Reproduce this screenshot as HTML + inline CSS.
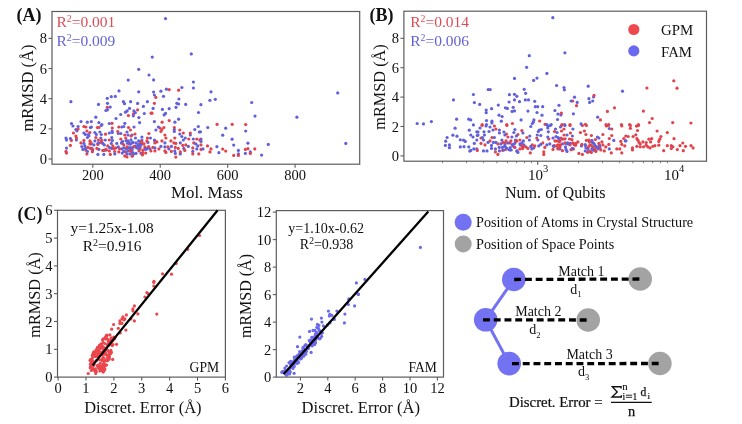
<!DOCTYPE html>
<html><head><meta charset="utf-8"><style>
html,body{margin:0;padding:0;background:#fff;width:742px;height:424px;overflow:hidden}
svg{display:block;will-change:transform}
.r{fill:#e2424a}.b{fill:#6060dc}
</style></head><body>
<svg width="742" height="424" viewBox="0 0 742 424" font-family="Liberation Serif">
<rect width="742" height="424" fill="#fff"/>
<g><circle class="r" cx="147.4" cy="138.0" r="1.6"/><circle class="b" cx="91.3" cy="121.6" r="1.6"/><circle class="b" cx="155.9" cy="130.0" r="1.6"/><circle class="b" cx="134.3" cy="146.7" r="1.6"/><circle class="r" cx="245.4" cy="149.4" r="1.6"/><circle class="b" cx="70.9" cy="101.7" r="1.6"/><circle class="r" cx="207.5" cy="145.9" r="1.6"/><circle class="b" cx="149.0" cy="75.0" r="1.6"/><circle class="r" cx="106.1" cy="149.8" r="1.6"/><circle class="b" cx="133.9" cy="110.9" r="1.6"/><circle class="b" cx="152.3" cy="57.1" r="1.6"/><circle class="b" cx="95.8" cy="117.2" r="1.6"/><circle class="r" cx="112.3" cy="128.0" r="1.6"/><circle class="b" cx="111.8" cy="148.4" r="1.6"/><circle class="b" cx="132.0" cy="142.9" r="1.6"/><circle class="b" cx="128.2" cy="80.1" r="1.6"/><circle class="b" cx="87.4" cy="137.5" r="1.6"/><circle class="b" cx="296.9" cy="117.2" r="1.6"/><circle class="b" cx="141.1" cy="153.3" r="1.6"/><circle class="r" cx="148.9" cy="133.5" r="1.6"/><circle class="b" cx="153.6" cy="92.0" r="1.6"/><circle class="b" cx="130.0" cy="147.9" r="1.6"/><circle class="r" cx="135.0" cy="134.0" r="1.6"/><circle class="b" cx="196.8" cy="148.9" r="1.6"/><circle class="b" cx="133.0" cy="142.4" r="1.6"/><circle class="b" cx="178.6" cy="104.0" r="1.6"/><circle class="b" cx="120.8" cy="133.5" r="1.6"/><circle class="r" cx="125.6" cy="151.8" r="1.6"/><circle class="b" cx="97.9" cy="154.4" r="1.6"/><circle class="b" cx="132.3" cy="152.7" r="1.6"/><circle class="r" cx="159.9" cy="128.0" r="1.6"/><circle class="r" cx="192.8" cy="147.9" r="1.6"/><circle class="r" cx="107.3" cy="107.3" r="1.6"/><circle class="b" cx="129.0" cy="142.7" r="1.6"/><circle class="r" cx="123.8" cy="144.9" r="1.6"/><circle class="b" cx="107.5" cy="103.3" r="1.6"/><circle class="b" cx="66.0" cy="138.0" r="1.6"/><circle class="b" cx="180.3" cy="142.9" r="1.6"/><circle class="r" cx="133.5" cy="113.8" r="1.6"/><circle class="r" cx="129.0" cy="143.9" r="1.6"/><circle class="b" cx="162.4" cy="109.4" r="1.6"/><circle class="r" cx="85.8" cy="150.1" r="1.6"/><circle class="b" cx="193.4" cy="82.0" r="1.6"/><circle class="b" cx="238.4" cy="153.9" r="1.6"/><circle class="r" cx="188.8" cy="139.0" r="1.6"/><circle class="b" cx="84.9" cy="145.9" r="1.6"/><circle class="b" cx="132.2" cy="149.5" r="1.6"/><circle class="b" cx="140.0" cy="147.2" r="1.6"/><circle class="r" cx="104.9" cy="149.8" r="1.6"/><circle class="r" cx="86.9" cy="153.9" r="1.6"/><circle class="b" cx="174.3" cy="131.5" r="1.6"/><circle class="b" cx="94.9" cy="140.9" r="1.6"/><circle class="b" cx="180.3" cy="153.9" r="1.6"/><circle class="r" cx="86.9" cy="131.0" r="1.6"/><circle class="r" cx="161.9" cy="129.5" r="1.6"/><circle class="b" cx="154.9" cy="140.9" r="1.6"/><circle class="b" cx="135.5" cy="138.0" r="1.6"/><circle class="b" cx="121.8" cy="148.9" r="1.6"/><circle class="r" cx="179.8" cy="130.0" r="1.6"/><circle class="b" cx="76.4" cy="140.0" r="1.6"/><circle class="b" cx="142.0" cy="143.8" r="1.6"/><circle class="b" cx="75.9" cy="129.5" r="1.6"/><circle class="b" cx="174.3" cy="129.5" r="1.6"/><circle class="r" cx="175.3" cy="147.4" r="1.6"/><circle class="b" cx="107.5" cy="109.8" r="1.6"/><circle class="b" cx="147.9" cy="142.4" r="1.6"/><circle class="b" cx="136.0" cy="142.9" r="1.6"/><circle class="r" cx="124.8" cy="135.0" r="1.6"/><circle class="b" cx="168.9" cy="148.9" r="1.6"/><circle class="b" cx="97.8" cy="143.8" r="1.6"/><circle class="r" cx="201.0" cy="149.4" r="1.6"/><circle class="b" cx="154.4" cy="121.6" r="1.6"/><circle class="b" cx="165.5" cy="113.4" r="1.6"/><circle class="r" cx="90.2" cy="148.3" r="1.6"/><circle class="b" cx="165.5" cy="18.6" r="1.6"/><circle class="b" cx="93.9" cy="144.9" r="1.6"/><circle class="r" cx="130.5" cy="130.0" r="1.6"/><circle class="r" cx="140.0" cy="148.9" r="1.6"/><circle class="b" cx="216.9" cy="146.7" r="1.6"/><circle class="b" cx="136.3" cy="147.3" r="1.6"/><circle class="b" cx="139.6" cy="122.6" r="1.6"/><circle class="r" cx="89.9" cy="132.5" r="1.6"/><circle class="b" cx="123.8" cy="151.4" r="1.6"/><circle class="b" cx="154.4" cy="140.0" r="1.6"/><circle class="r" cx="154.9" cy="150.9" r="1.6"/><circle class="b" cx="179.8" cy="134.0" r="1.6"/><circle class="b" cx="238.4" cy="150.4" r="1.6"/><circle class="r" cx="152.9" cy="147.4" r="1.6"/><circle class="b" cx="66.5" cy="140.0" r="1.6"/><circle class="b" cx="144.3" cy="113.5" r="1.6"/><circle class="r" cx="97.9" cy="144.4" r="1.6"/><circle class="b" cx="176.9" cy="103.3" r="1.6"/><circle class="b" cx="201.0" cy="139.0" r="1.6"/><circle class="b" cx="116.8" cy="143.4" r="1.6"/><circle class="r" cx="98.9" cy="127.5" r="1.6"/><circle class="r" cx="92.8" cy="149.7" r="1.6"/><circle class="b" cx="141.9" cy="137.0" r="1.6"/><circle class="r" cx="170.9" cy="140.9" r="1.6"/><circle class="b" cx="178.6" cy="119.2" r="1.6"/><circle class="b" cx="188.3" cy="146.4" r="1.6"/><circle class="r" cx="118.8" cy="127.0" r="1.6"/><circle class="b" cx="101.3" cy="134.5" r="1.6"/><circle class="b" cx="345.8" cy="143.4" r="1.6"/><circle class="r" cx="120.8" cy="139.0" r="1.6"/><circle class="b" cx="193.3" cy="139.0" r="1.6"/><circle class="b" cx="245.7" cy="131.0" r="1.6"/><circle class="b" cx="88.9" cy="136.0" r="1.6"/><circle class="b" cx="160.9" cy="91.2" r="1.6"/><circle class="b" cx="164.1" cy="114.9" r="1.6"/><circle class="b" cx="82.9" cy="149.4" r="1.6"/><circle class="b" cx="104.3" cy="144.9" r="1.6"/><circle class="r" cx="173.9" cy="142.9" r="1.6"/><circle class="b" cx="133.0" cy="152.9" r="1.6"/><circle class="r" cx="178.3" cy="148.4" r="1.6"/><circle class="b" cx="215.3" cy="99.3" r="1.6"/><circle class="r" cx="114.7" cy="151.5" r="1.6"/><circle class="b" cx="127.0" cy="153.9" r="1.6"/><circle class="b" cx="154.4" cy="95.0" r="1.6"/><circle class="b" cx="147.2" cy="148.2" r="1.6"/><circle class="b" cx="181.9" cy="87.5" r="1.6"/><circle class="b" cx="130.0" cy="153.9" r="1.6"/><circle class="b" cx="118.3" cy="133.5" r="1.6"/><circle class="b" cx="132.5" cy="155.7" r="1.6"/><circle class="b" cx="98.9" cy="149.4" r="1.6"/><circle class="r" cx="112.0" cy="123.3" r="1.6"/><circle class="r" cx="238.4" cy="155.4" r="1.6"/><circle class="b" cx="207.8" cy="127.5" r="1.6"/><circle class="r" cx="254.8" cy="148.9" r="1.6"/><circle class="r" cx="222.7" cy="149.1" r="1.6"/><circle class="b" cx="169.2" cy="108.7" r="1.6"/><circle class="b" cx="126.1" cy="140.7" r="1.6"/><circle class="b" cx="233.7" cy="145.1" r="1.6"/><circle class="r" cx="105.5" cy="134.2" r="1.6"/><circle class="r" cx="110.3" cy="154.4" r="1.6"/><circle class="b" cx="132.2" cy="147.7" r="1.6"/><circle class="b" cx="76.9" cy="130.8" r="1.6"/><circle class="b" cx="66.5" cy="148.1" r="1.6"/><circle class="b" cx="123.4" cy="101.7" r="1.6"/><circle class="r" cx="83.9" cy="140.4" r="1.6"/><circle class="b" cx="255.0" cy="116.1" r="1.6"/><circle class="b" cx="123.8" cy="147.9" r="1.6"/><circle class="r" cx="107.8" cy="145.9" r="1.6"/><circle class="r" cx="80.9" cy="142.9" r="1.6"/><circle class="r" cx="66.0" cy="151.4" r="1.6"/><circle class="r" cx="115.8" cy="147.9" r="1.6"/><circle class="b" cx="138.8" cy="148.8" r="1.6"/><circle class="b" cx="218.9" cy="152.7" r="1.6"/><circle class="b" cx="123.8" cy="126.5" r="1.6"/><circle class="b" cx="103.9" cy="150.5" r="1.6"/><circle class="b" cx="166.4" cy="89.2" r="1.6"/><circle class="r" cx="137.6" cy="109.8" r="1.6"/><circle class="r" cx="160.9" cy="131.5" r="1.6"/><circle class="r" cx="117.8" cy="131.5" r="1.6"/><circle class="b" cx="144.8" cy="149.0" r="1.6"/><circle class="r" cx="201.0" cy="144.9" r="1.6"/><circle class="b" cx="130.4" cy="144.1" r="1.6"/><circle class="r" cx="97.4" cy="127.5" r="1.6"/><circle class="r" cx="140.4" cy="143.4" r="1.6"/><circle class="r" cx="146.9" cy="140.9" r="1.6"/><circle class="b" cx="197.8" cy="145.9" r="1.6"/><circle class="b" cx="132.0" cy="135.0" r="1.6"/><circle class="b" cx="91.4" cy="143.9" r="1.6"/><circle class="b" cx="72.9" cy="126.0" r="1.6"/><circle class="b" cx="119.0" cy="90.9" r="1.6"/><circle class="b" cx="109.5" cy="147.5" r="1.6"/><circle class="r" cx="154.4" cy="103.3" r="1.6"/><circle class="r" cx="245.7" cy="124.6" r="1.6"/><circle class="b" cx="110.2" cy="107.1" r="1.6"/><circle class="r" cx="225.7" cy="151.1" r="1.6"/><circle class="b" cx="126.2" cy="148.7" r="1.6"/><circle class="b" cx="107.3" cy="98.3" r="1.6"/><circle class="r" cx="183.3" cy="133.0" r="1.6"/><circle class="b" cx="183.8" cy="148.4" r="1.6"/><circle class="r" cx="142.4" cy="154.9" r="1.6"/><circle class="r" cx="142.9" cy="150.4" r="1.6"/><circle class="b" cx="131.0" cy="139.9" r="1.6"/><circle class="r" cx="232.2" cy="124.3" r="1.6"/><circle class="b" cx="111.3" cy="96.7" r="1.6"/><circle class="r" cx="211.0" cy="148.9" r="1.6"/><circle class="r" cx="155.8" cy="97.4" r="1.6"/><circle class="b" cx="193.4" cy="88.0" r="1.6"/><circle class="b" cx="116.0" cy="118.5" r="1.6"/><circle class="b" cx="100.8" cy="138.0" r="1.6"/><circle class="r" cx="174.3" cy="127.5" r="1.6"/><circle class="b" cx="88.4" cy="134.5" r="1.6"/><circle class="b" cx="128.0" cy="150.9" r="1.6"/><circle class="b" cx="133.5" cy="154.1" r="1.6"/><circle class="r" cx="184.8" cy="150.4" r="1.6"/><circle class="b" cx="128.0" cy="140.9" r="1.6"/><circle class="r" cx="90.8" cy="142.6" r="1.6"/><circle class="r" cx="152.0" cy="113.2" r="1.6"/><circle class="r" cx="128.5" cy="127.5" r="1.6"/><circle class="r" cx="162.1" cy="122.2" r="1.6"/><circle class="b" cx="122.2" cy="153.1" r="1.6"/><circle class="b" cx="178.9" cy="99.0" r="1.6"/><circle class="r" cx="127.0" cy="156.9" r="1.6"/><circle class="r" cx="91.9" cy="148.4" r="1.6"/><circle class="r" cx="180.3" cy="151.9" r="1.6"/><circle class="r" cx="124.8" cy="155.9" r="1.6"/><circle class="r" cx="163.9" cy="127.5" r="1.6"/><circle class="b" cx="101.9" cy="124.6" r="1.6"/><circle class="b" cx="245.4" cy="153.4" r="1.6"/><circle class="b" cx="209.9" cy="100.3" r="1.6"/><circle class="b" cx="171.4" cy="146.4" r="1.6"/><circle class="r" cx="199.8" cy="140.0" r="1.6"/><circle class="b" cx="134.0" cy="127.0" r="1.6"/><circle class="b" cx="112.3" cy="140.4" r="1.6"/><circle class="b" cx="268.3" cy="144.4" r="1.6"/><circle class="b" cx="121.8" cy="143.2" r="1.6"/><circle class="r" cx="96.9" cy="148.4" r="1.6"/><circle class="r" cx="142.8" cy="153.4" r="1.6"/><circle class="b" cx="98.5" cy="104.4" r="1.6"/><circle class="b" cx="105.3" cy="140.0" r="1.6"/><circle class="r" cx="130.1" cy="150.6" r="1.6"/><circle class="b" cx="160.9" cy="146.4" r="1.6"/><circle class="b" cx="153.1" cy="108.4" r="1.6"/><circle class="b" cx="135.3" cy="112.7" r="1.6"/><circle class="b" cx="129.5" cy="108.4" r="1.6"/><circle class="b" cx="112.1" cy="131.0" r="1.6"/><circle class="r" cx="87.9" cy="147.4" r="1.6"/><circle class="b" cx="101.3" cy="125.5" r="1.6"/><circle class="b" cx="122.5" cy="141.4" r="1.6"/><circle class="r" cx="198.8" cy="153.9" r="1.6"/><circle class="b" cx="111.3" cy="143.4" r="1.6"/><circle class="r" cx="167.9" cy="146.9" r="1.6"/><circle class="r" cx="76.4" cy="138.0" r="1.6"/><circle class="r" cx="154.9" cy="142.9" r="1.6"/><circle class="b" cx="121.8" cy="127.0" r="1.6"/><circle class="b" cx="194.8" cy="129.5" r="1.6"/><circle class="b" cx="143.4" cy="106.4" r="1.6"/><circle class="r" cx="109.3" cy="140.0" r="1.6"/><circle class="r" cx="102.8" cy="150.4" r="1.6"/><circle class="b" cx="141.0" cy="144.9" r="1.6"/><circle class="r" cx="144.8" cy="146.9" r="1.6"/><circle class="b" cx="261.6" cy="155.1" r="1.6"/><circle class="b" cx="124.8" cy="123.3" r="1.6"/><circle class="r" cx="217.1" cy="124.3" r="1.6"/><circle class="b" cx="92.4" cy="150.7" r="1.6"/><circle class="b" cx="181.8" cy="136.5" r="1.6"/><circle class="r" cx="131.0" cy="150.9" r="1.6"/><circle class="b" cx="138.0" cy="144.9" r="1.6"/><circle class="r" cx="193.8" cy="142.9" r="1.6"/><circle class="b" cx="125.5" cy="112.2" r="1.6"/><circle class="r" cx="156.9" cy="141.9" r="1.6"/><circle class="r" cx="131.0" cy="136.0" r="1.6"/><circle class="b" cx="198.3" cy="126.5" r="1.6"/><circle class="b" cx="127.5" cy="143.2" r="1.6"/><circle class="b" cx="192.8" cy="151.4" r="1.6"/><circle class="b" cx="164.9" cy="146.9" r="1.6"/><circle class="r" cx="196.8" cy="139.0" r="1.6"/><circle class="r" cx="119.6" cy="148.8" r="1.6"/><circle class="b" cx="138.7" cy="69.3" r="1.6"/><circle class="r" cx="145.7" cy="153.1" r="1.6"/><circle class="r" cx="66.5" cy="153.1" r="1.6"/><circle class="b" cx="147.4" cy="101.7" r="1.6"/><circle class="b" cx="127.9" cy="147.8" r="1.6"/><circle class="r" cx="132.1" cy="156.2" r="1.6"/><circle class="b" cx="138.6" cy="145.9" r="1.6"/><circle class="b" cx="190.3" cy="135.0" r="1.6"/><circle class="r" cx="78.1" cy="129.0" r="1.6"/><circle class="b" cx="83.9" cy="133.0" r="1.6"/><circle class="b" cx="203.0" cy="148.9" r="1.6"/><circle class="r" cx="178.6" cy="90.2" r="1.6"/><circle class="r" cx="169.2" cy="89.6" r="1.6"/><circle class="r" cx="175.8" cy="143.4" r="1.6"/><circle class="b" cx="81.8" cy="146.6" r="1.6"/><circle class="b" cx="250.3" cy="151.9" r="1.6"/><circle class="r" cx="233.7" cy="155.4" r="1.6"/><circle class="b" cx="105.9" cy="110.5" r="1.6"/><circle class="b" cx="85.4" cy="148.4" r="1.6"/><circle class="r" cx="109.3" cy="150.9" r="1.6"/><circle class="b" cx="200.9" cy="104.7" r="1.6"/><circle class="r" cx="139.0" cy="150.9" r="1.6"/><circle class="b" cx="96.4" cy="134.5" r="1.6"/><circle class="r" cx="247.9" cy="148.7" r="1.6"/><circle class="b" cx="174.8" cy="150.9" r="1.6"/><circle class="r" cx="140.3" cy="142.2" r="1.6"/><circle class="r" cx="121.8" cy="142.9" r="1.6"/><circle class="b" cx="130.6" cy="101.7" r="1.6"/><circle class="b" cx="149.9" cy="148.9" r="1.6"/><circle class="b" cx="135.5" cy="146.2" r="1.6"/><circle class="r" cx="71.4" cy="140.4" r="1.6"/><circle class="b" cx="222.7" cy="135.2" r="1.6"/><circle class="b" cx="138.9" cy="117.6" r="1.6"/><circle class="b" cx="158.4" cy="127.0" r="1.6"/><circle class="b" cx="150.4" cy="138.0" r="1.6"/><circle class="r" cx="75.9" cy="136.0" r="1.6"/><circle class="r" cx="89.9" cy="140.9" r="1.6"/><circle class="b" cx="191.3" cy="53.9" r="1.6"/><circle class="b" cx="127.1" cy="110.9" r="1.6"/><circle class="b" cx="195.8" cy="143.9" r="1.6"/><circle class="r" cx="164.9" cy="135.0" r="1.6"/><circle class="r" cx="89.9" cy="143.9" r="1.6"/><circle class="b" cx="183.3" cy="140.0" r="1.6"/><circle class="b" cx="91.4" cy="127.0" r="1.6"/><circle class="b" cx="127.0" cy="132.0" r="1.6"/><circle class="r" cx="158.9" cy="148.9" r="1.6"/><circle class="r" cx="182.8" cy="145.4" r="1.6"/><circle class="r" cx="190.3" cy="133.0" r="1.6"/><circle class="b" cx="85.4" cy="134.5" r="1.6"/><circle class="r" cx="118.8" cy="151.9" r="1.6"/><circle class="b" cx="78.1" cy="126.5" r="1.6"/><circle class="b" cx="200.5" cy="131.8" r="1.6"/><circle class="b" cx="120.7" cy="114.5" r="1.6"/><circle class="b" cx="141.9" cy="140.0" r="1.6"/><circle class="r" cx="83.9" cy="126.5" r="1.6"/><circle class="b" cx="145.9" cy="148.9" r="1.6"/><circle class="r" cx="100.8" cy="142.4" r="1.6"/><circle class="b" cx="232.1" cy="139.2" r="1.6"/><circle class="b" cx="87.4" cy="151.4" r="1.6"/><circle class="b" cx="154.9" cy="147.9" r="1.6"/><circle class="b" cx="115.3" cy="96.4" r="1.6"/><circle class="b" cx="102.8" cy="143.4" r="1.6"/><circle class="b" cx="111.8" cy="137.5" r="1.6"/><circle class="r" cx="141.9" cy="141.9" r="1.6"/><circle class="b" cx="112.3" cy="132.5" r="1.6"/><circle class="b" cx="128.0" cy="135.0" r="1.6"/><circle class="b" cx="87.3" cy="122.2" r="1.6"/><circle class="b" cx="136.0" cy="153.4" r="1.6"/><circle class="r" cx="165.9" cy="138.0" r="1.6"/><circle class="r" cx="98.4" cy="140.0" r="1.6"/><circle class="r" cx="144.0" cy="143.8" r="1.6"/><circle class="r" cx="185.8" cy="144.9" r="1.6"/><circle class="b" cx="251.7" cy="102.5" r="1.6"/><circle class="r" cx="85.9" cy="127.0" r="1.6"/><circle class="r" cx="174.8" cy="138.0" r="1.6"/><circle class="b" cx="199.3" cy="132.0" r="1.6"/><circle class="r" cx="114.0" cy="148.7" r="1.6"/><circle class="r" cx="151.1" cy="113.2" r="1.6"/><circle class="b" cx="81.0" cy="121.6" r="1.6"/><circle class="b" cx="109.3" cy="123.5" r="1.6"/><circle class="r" cx="169.2" cy="120.6" r="1.6"/><circle class="b" cx="133.3" cy="115.8" r="1.6"/><circle class="r" cx="70.4" cy="145.4" r="1.6"/><circle class="b" cx="103.8" cy="154.4" r="1.6"/><circle class="r" cx="171.4" cy="151.4" r="1.6"/><circle class="b" cx="94.9" cy="132.5" r="1.6"/><circle class="r" cx="128.4" cy="115.6" r="1.6"/><circle class="b" cx="174.9" cy="122.2" r="1.6"/><circle class="b" cx="176.0" cy="107.3" r="1.6"/><circle class="r" cx="125.8" cy="138.0" r="1.6"/><circle class="b" cx="138.5" cy="144.7" r="1.6"/><circle class="r" cx="175.8" cy="157.1" r="1.6"/><circle class="b" cx="153.6" cy="79.9" r="1.6"/><circle class="b" cx="163.5" cy="96.3" r="1.6"/><circle class="r" cx="148.6" cy="146.7" r="1.6"/><circle class="b" cx="247.9" cy="143.2" r="1.6"/><circle class="b" cx="121.7" cy="142.5" r="1.6"/><circle class="b" cx="137.0" cy="147.9" r="1.6"/><circle class="b" cx="225.7" cy="128.2" r="1.6"/><circle class="r" cx="106.3" cy="149.9" r="1.6"/><circle class="b" cx="138.6" cy="140.9" r="1.6"/><circle class="b" cx="138.7" cy="91.8" r="1.6"/><circle class="b" cx="98.4" cy="142.9" r="1.6"/><circle class="b" cx="211.0" cy="91.8" r="1.6"/><circle class="r" cx="95.9" cy="137.5" r="1.6"/><circle class="r" cx="150.9" cy="150.9" r="1.6"/><circle class="b" cx="198.5" cy="112.5" r="1.6"/><circle class="b" cx="185.7" cy="104.4" r="1.6"/><circle class="b" cx="175.3" cy="153.4" r="1.6"/><circle class="r" cx="210.0" cy="151.9" r="1.6"/><circle class="b" cx="124.5" cy="103.7" r="1.6"/><circle class="b" cx="109.3" cy="133.0" r="1.6"/><circle class="b" cx="146.1" cy="149.2" r="1.6"/><circle class="b" cx="98.9" cy="122.6" r="1.6"/><circle class="b" cx="114.8" cy="153.9" r="1.6"/><circle class="b" cx="90.4" cy="127.5" r="1.6"/><circle class="r" cx="112.8" cy="145.9" r="1.6"/><circle class="r" cx="161.9" cy="140.9" r="1.6"/><circle class="r" cx="127.0" cy="146.9" r="1.6"/><circle class="r" cx="250.3" cy="153.4" r="1.6"/><circle class="r" cx="101.8" cy="140.4" r="1.6"/><circle class="b" cx="337.7" cy="92.9" r="1.6"/><circle class="b" cx="137.6" cy="103.4" r="1.6"/><circle class="r" cx="164.9" cy="150.9" r="1.6"/><circle class="b" cx="129.6" cy="147.9" r="1.6"/><circle class="b" cx="70.4" cy="138.5" r="1.6"/><circle class="r" cx="92.4" cy="151.7" r="1.6"/><circle class="r" cx="192.8" cy="153.9" r="1.6"/><circle class="b" cx="164.9" cy="142.9" r="1.6"/><circle class="r" cx="165.9" cy="152.4" r="1.6"/><circle class="b" cx="83.9" cy="143.4" r="1.6"/><circle class="b" cx="201.0" cy="141.4" r="1.6"/><circle class="r" cx="73.4" cy="133.0" r="1.6"/><circle class="b" cx="99.9" cy="132.0" r="1.6"/><circle class="b" cx="71.5" cy="123.5" r="1.6"/><circle class="b" cx="118.3" cy="146.9" r="1.6"/><circle class="r" cx="134.0" cy="146.4" r="1.6"/><circle class="b" cx="185.3" cy="138.0" r="1.6"/></g>
<rect x="52" y="11.5" width="307.7" height="152.7" fill="none" stroke="#5c5c5c" stroke-width="1.2"/>
<line x1="48.5" y1="159.0" x2="52" y2="159.0" stroke="#5c5c5c" stroke-width="1.1"/>
<text x="47" y="164.0" font-size="14.5" text-anchor="end" fill="#111111" font-weight="normal" >0</text>
<line x1="48.5" y1="128.84" x2="52" y2="128.84" stroke="#5c5c5c" stroke-width="1.1"/>
<text x="47" y="133.84" font-size="14.5" text-anchor="end" fill="#111111" font-weight="normal" >2</text>
<line x1="48.5" y1="98.68" x2="52" y2="98.68" stroke="#5c5c5c" stroke-width="1.1"/>
<text x="47" y="103.68" font-size="14.5" text-anchor="end" fill="#111111" font-weight="normal" >4</text>
<line x1="48.5" y1="68.52" x2="52" y2="68.52" stroke="#5c5c5c" stroke-width="1.1"/>
<text x="47" y="73.52" font-size="14.5" text-anchor="end" fill="#111111" font-weight="normal" >6</text>
<line x1="48.5" y1="38.36" x2="52" y2="38.36" stroke="#5c5c5c" stroke-width="1.1"/>
<text x="47" y="43.36" font-size="14.5" text-anchor="end" fill="#111111" font-weight="normal" >8</text>
<line x1="92.78999999999999" y1="164.2" x2="92.78999999999999" y2="167.7" stroke="#5c5c5c" stroke-width="1.1"/>
<text x="92.78999999999999" y="180.4" font-size="14.5" text-anchor="middle" fill="#111111" font-weight="normal" >200</text>
<line x1="160.23" y1="164.2" x2="160.23" y2="167.7" stroke="#5c5c5c" stroke-width="1.1"/>
<text x="160.23" y="180.4" font-size="14.5" text-anchor="middle" fill="#111111" font-weight="normal" >400</text>
<line x1="227.67" y1="164.2" x2="227.67" y2="167.7" stroke="#5c5c5c" stroke-width="1.1"/>
<text x="227.67" y="180.4" font-size="14.5" text-anchor="middle" fill="#111111" font-weight="normal" >600</text>
<line x1="295.11" y1="164.2" x2="295.11" y2="167.7" stroke="#5c5c5c" stroke-width="1.1"/>
<text x="295.11" y="180.4" font-size="14.5" text-anchor="middle" fill="#111111" font-weight="normal" >800</text>
<text x="171.1" y="197.9" font-size="16.8" text-anchor="start" fill="#111111" font-weight="normal" >Mol. Mass</text>
<text x="0" y="0" font-size="16.6" text-anchor="middle" fill="#111111" transform="translate(33,88) rotate(-90)">mRMSD (Å)</text>
<text x="16.6" y="20.5" font-size="18" text-anchor="start" fill="#111111" font-weight="bold" >(A)</text>
<text x="56.4" y="27.0" font-size="15.5" text-anchor="start" fill="#dc4c56" font-weight="normal" >R<tspan font-size="9.8" dy="-5">2</tspan><tspan dy="5">=0.001</tspan></text>
<text x="56.4" y="45.8" font-size="15.5" text-anchor="start" fill="#6262d8" font-weight="normal" >R<tspan font-size="9.8" dy="-5">2</tspan><tspan dy="5">=0.009</tspan></text>
<g><circle class="b" cx="528.5" cy="99.9" r="1.6"/><circle class="r" cx="677.0" cy="88.2" r="1.6"/><circle class="b" cx="557.5" cy="119.5" r="1.6"/><circle class="r" cx="649.5" cy="122.6" r="1.6"/><circle class="r" cx="585.9" cy="134.5" r="1.6"/><circle class="b" cx="533.8" cy="147.9" r="1.6"/><circle class="r" cx="643.5" cy="146.8" r="1.6"/><circle class="b" cx="488.2" cy="89.6" r="1.6"/><circle class="b" cx="593.6" cy="97.0" r="1.6"/><circle class="r" cx="481.0" cy="143.4" r="1.6"/><circle class="b" cx="529.4" cy="140.0" r="1.6"/><circle class="r" cx="596.9" cy="146.9" r="1.6"/><circle class="b" cx="479.7" cy="104.4" r="1.6"/><circle class="b" cx="525.3" cy="99.9" r="1.6"/><circle class="b" cx="553.2" cy="146.0" r="1.6"/><circle class="r" cx="557.0" cy="141.0" r="1.6"/><circle class="r" cx="517.9" cy="134.5" r="1.6"/><circle class="b" cx="499.4" cy="150.9" r="1.6"/><circle class="b" cx="515.9" cy="140.9" r="1.6"/><circle class="b" cx="538.3" cy="131.5" r="1.6"/><circle class="b" cx="622.5" cy="91.2" r="1.6"/><circle class="b" cx="556.0" cy="136.5" r="1.6"/><circle class="r" cx="553.0" cy="149.4" r="1.6"/><circle class="r" cx="559.2" cy="141.7" r="1.6"/><circle class="b" cx="535.3" cy="106.7" r="1.6"/><circle class="b" cx="463.6" cy="140.2" r="1.6"/><circle class="r" cx="543.8" cy="154.4" r="1.6"/><circle class="b" cx="564.4" cy="89.8" r="1.6"/><circle class="b" cx="486.5" cy="120.6" r="1.6"/><circle class="b" cx="598.4" cy="147.8" r="1.6"/><circle class="b" cx="592.7" cy="101.0" r="1.6"/><circle class="b" cx="491.6" cy="108.7" r="1.6"/><circle class="b" cx="445.7" cy="141.2" r="1.6"/><circle class="r" cx="601.9" cy="141.9" r="1.6"/><circle class="r" cx="636.4" cy="126.1" r="1.6"/><circle class="b" cx="565.9" cy="143.5" r="1.6"/><circle class="b" cx="476.8" cy="148.9" r="1.6"/><circle class="r" cx="517.1" cy="151.2" r="1.6"/><circle class="r" cx="633.1" cy="136.5" r="1.6"/><circle class="r" cx="502.6" cy="150.3" r="1.6"/><circle class="b" cx="509.1" cy="149.6" r="1.6"/><circle class="r" cx="608.7" cy="124.6" r="1.6"/><circle class="r" cx="578.9" cy="153.4" r="1.6"/><circle class="r" cx="564.0" cy="135.0" r="1.6"/><circle class="b" cx="478.0" cy="135.0" r="1.6"/><circle class="b" cx="514.9" cy="129.5" r="1.6"/><circle class="r" cx="497.9" cy="143.9" r="1.6"/><circle class="b" cx="514.5" cy="110.9" r="1.6"/><circle class="b" cx="539.3" cy="130.0" r="1.6"/><circle class="b" cx="533.6" cy="80.4" r="1.6"/><circle class="b" cx="550.3" cy="125.5" r="1.6"/><circle class="b" cx="565.0" cy="125.5" r="1.6"/><circle class="b" cx="555.5" cy="129.0" r="1.6"/><circle class="b" cx="593.5" cy="143.1" r="1.6"/><circle class="b" cx="517.9" cy="152.4" r="1.6"/><circle class="r" cx="621.8" cy="152.9" r="1.6"/><circle class="b" cx="469.8" cy="151.1" r="1.6"/><circle class="b" cx="572.4" cy="136.0" r="1.6"/><circle class="b" cx="503.9" cy="132.0" r="1.6"/><circle class="r" cx="693.1" cy="147.9" r="1.6"/><circle class="r" cx="495.4" cy="151.9" r="1.6"/><circle class="b" cx="562.5" cy="143.9" r="1.6"/><circle class="r" cx="565.1" cy="138.8" r="1.6"/><circle class="r" cx="642.9" cy="141.9" r="1.6"/><circle class="b" cx="523.4" cy="140.9" r="1.6"/><circle class="r" cx="607.4" cy="111.4" r="1.6"/><circle class="r" cx="481.0" cy="138.0" r="1.6"/><circle class="b" cx="493.4" cy="142.4" r="1.6"/><circle class="b" cx="473.0" cy="137.0" r="1.6"/><circle class="r" cx="586.4" cy="140.4" r="1.6"/><circle class="r" cx="523.3" cy="146.8" r="1.6"/><circle class="r" cx="564.0" cy="129.0" r="1.6"/><circle class="r" cx="619.8" cy="148.9" r="1.6"/><circle class="b" cx="565.5" cy="146.9" r="1.6"/><circle class="r" cx="599.9" cy="147.9" r="1.6"/><circle class="b" cx="470.8" cy="135.0" r="1.6"/><circle class="r" cx="646.9" cy="88.0" r="1.6"/><circle class="r" cx="572.7" cy="101.0" r="1.6"/><circle class="b" cx="512.1" cy="111.4" r="1.6"/><circle class="r" cx="582.4" cy="125.5" r="1.6"/><circle class="r" cx="640.2" cy="146.8" r="1.6"/><circle class="r" cx="530.3" cy="152.9" r="1.6"/><circle class="r" cx="602.9" cy="134.5" r="1.6"/><circle class="b" cx="564.0" cy="87.5" r="1.6"/><circle class="b" cx="537.8" cy="140.0" r="1.6"/><circle class="r" cx="658.8" cy="141.4" r="1.6"/><circle class="r" cx="647.8" cy="146.8" r="1.6"/><circle class="b" cx="599.4" cy="145.1" r="1.6"/><circle class="b" cx="468.7" cy="119.2" r="1.6"/><circle class="b" cx="540.8" cy="135.5" r="1.6"/><circle class="b" cx="514.5" cy="94.3" r="1.6"/><circle class="b" cx="609.3" cy="148.9" r="1.6"/><circle class="r" cx="636.9" cy="138.7" r="1.6"/><circle class="r" cx="558.0" cy="148.9" r="1.6"/><circle class="r" cx="629.6" cy="124.6" r="1.6"/><circle class="b" cx="591.9" cy="140.4" r="1.6"/><circle class="r" cx="589.9" cy="151.4" r="1.6"/><circle class="r" cx="565.0" cy="142.9" r="1.6"/><circle class="r" cx="558.0" cy="144.9" r="1.6"/><circle class="r" cx="485.0" cy="144.9" r="1.6"/><circle class="b" cx="483.5" cy="140.0" r="1.6"/><circle class="r" cx="576.5" cy="105.7" r="1.6"/><circle class="b" cx="519.9" cy="143.9" r="1.6"/><circle class="b" cx="499.4" cy="133.0" r="1.6"/><circle class="r" cx="638.4" cy="124.6" r="1.6"/><circle class="r" cx="600.8" cy="149.9" r="1.6"/><circle class="b" cx="470.7" cy="119.9" r="1.6"/><circle class="r" cx="548.8" cy="139.0" r="1.6"/><circle class="r" cx="522.3" cy="146.3" r="1.6"/><circle class="b" cx="512.9" cy="145.9" r="1.6"/><circle class="r" cx="625.8" cy="136.0" r="1.6"/><circle class="b" cx="490.0" cy="127.0" r="1.6"/><circle class="b" cx="581.4" cy="145.9" r="1.6"/><circle class="b" cx="470.8" cy="150.4" r="1.6"/><circle class="r" cx="592.9" cy="146.9" r="1.6"/><circle class="b" cx="595.6" cy="146.4" r="1.6"/><circle class="b" cx="573.4" cy="113.8" r="1.6"/><circle class="b" cx="529.8" cy="136.0" r="1.6"/><circle class="r" cx="608.8" cy="144.4" r="1.6"/><circle class="r" cx="506.7" cy="124.6" r="1.6"/><circle class="b" cx="581.1" cy="123.9" r="1.6"/><circle class="r" cx="482.2" cy="124.6" r="1.6"/><circle class="b" cx="570.4" cy="143.4" r="1.6"/><circle class="r" cx="561.5" cy="125.5" r="1.6"/><circle class="r" cx="521.9" cy="130.5" r="1.6"/><circle class="r" cx="584.4" cy="131.0" r="1.6"/><circle class="b" cx="511.9" cy="137.0" r="1.6"/><circle class="b" cx="560.5" cy="127.0" r="1.6"/><circle class="b" cx="500.9" cy="143.9" r="1.6"/><circle class="b" cx="594.4" cy="144.3" r="1.6"/><circle class="r" cx="637.5" cy="130.5" r="1.6"/><circle class="b" cx="509.1" cy="102.0" r="1.6"/><circle class="b" cx="514.5" cy="99.9" r="1.6"/><circle class="r" cx="690.9" cy="123.0" r="1.6"/><circle class="b" cx="577.2" cy="102.4" r="1.6"/><circle class="b" cx="515.4" cy="140.0" r="1.6"/><circle class="r" cx="635.8" cy="134.8" r="1.6"/><circle class="b" cx="499.4" cy="130.0" r="1.6"/><circle class="b" cx="453.5" cy="99.9" r="1.6"/><circle class="r" cx="594.9" cy="148.9" r="1.6"/><circle class="r" cx="646.2" cy="142.5" r="1.6"/><circle class="b" cx="560.9" cy="114.9" r="1.6"/><circle class="r" cx="624.8" cy="145.9" r="1.6"/><circle class="b" cx="551.2" cy="124.6" r="1.6"/><circle class="r" cx="677.3" cy="149.6" r="1.6"/><circle class="r" cx="506.2" cy="149.2" r="1.6"/><circle class="b" cx="591.9" cy="148.9" r="1.6"/><circle class="r" cx="560.0" cy="140.9" r="1.6"/><circle class="r" cx="588.9" cy="140.0" r="1.6"/><circle class="r" cx="680.0" cy="145.7" r="1.6"/><circle class="r" cx="628.2" cy="136.5" r="1.6"/><circle class="r" cx="614.5" cy="107.8" r="1.6"/><circle class="b" cx="447.1" cy="137.5" r="1.6"/><circle class="b" cx="514.9" cy="147.5" r="1.6"/><circle class="b" cx="449.4" cy="147.7" r="1.6"/><circle class="r" cx="561.3" cy="113.2" r="1.6"/><circle class="r" cx="639.1" cy="142.5" r="1.6"/><circle class="r" cx="532.3" cy="144.9" r="1.6"/><circle class="b" cx="503.9" cy="150.0" r="1.6"/><circle class="b" cx="504.7" cy="146.5" r="1.6"/><circle class="r" cx="657.1" cy="131.0" r="1.6"/><circle class="b" cx="521.1" cy="119.9" r="1.6"/><circle class="r" cx="594.5" cy="150.4" r="1.6"/><circle class="b" cx="564.9" cy="52.8" r="1.6"/><circle class="b" cx="519.5" cy="101.7" r="1.6"/><circle class="b" cx="559.0" cy="105.3" r="1.6"/><circle class="r" cx="671.3" cy="145.7" r="1.6"/><circle class="r" cx="562.4" cy="150.7" r="1.6"/><circle class="b" cx="548.3" cy="131.8" r="1.6"/><circle class="b" cx="549.8" cy="143.9" r="1.6"/><circle class="b" cx="476.8" cy="140.0" r="1.6"/><circle class="r" cx="542.8" cy="142.9" r="1.6"/><circle class="r" cx="691.0" cy="145.7" r="1.6"/><circle class="r" cx="632.5" cy="147.9" r="1.6"/><circle class="r" cx="606.3" cy="126.0" r="1.6"/><circle class="r" cx="502.9" cy="142.4" r="1.6"/><circle class="b" cx="474.3" cy="143.4" r="1.6"/><circle class="r" cx="595.4" cy="139.5" r="1.6"/><circle class="b" cx="567.0" cy="151.4" r="1.6"/><circle class="b" cx="546.8" cy="144.9" r="1.6"/><circle class="r" cx="608.3" cy="125.5" r="1.6"/><circle class="r" cx="561.5" cy="131.0" r="1.6"/><circle class="r" cx="506.9" cy="125.5" r="1.6"/><circle class="r" cx="505.3" cy="142.8" r="1.6"/><circle class="r" cx="572.9" cy="142.9" r="1.6"/><circle class="b" cx="491.5" cy="145.4" r="1.6"/><circle class="r" cx="646.2" cy="145.2" r="1.6"/><circle class="r" cx="683.3" cy="150.7" r="1.6"/><circle class="r" cx="585.5" cy="124.3" r="1.6"/><circle class="b" cx="509.9" cy="149.9" r="1.6"/><circle class="b" cx="510.2" cy="147.5" r="1.6"/><circle class="b" cx="502.4" cy="147.4" r="1.6"/><circle class="b" cx="585.2" cy="151.0" r="1.6"/><circle class="r" cx="591.4" cy="135.5" r="1.6"/><circle class="b" cx="572.9" cy="129.0" r="1.6"/><circle class="b" cx="587.9" cy="151.9" r="1.6"/><circle class="b" cx="554.9" cy="110.5" r="1.6"/><circle class="r" cx="545.1" cy="124.3" r="1.6"/><circle class="b" cx="477.3" cy="135.5" r="1.6"/><circle class="b" cx="460.3" cy="146.9" r="1.6"/><circle class="b" cx="547.8" cy="137.0" r="1.6"/><circle class="r" cx="571.9" cy="139.6" r="1.6"/><circle class="r" cx="490.0" cy="140.9" r="1.6"/><circle class="r" cx="492.0" cy="137.5" r="1.6"/><circle class="b" cx="537.0" cy="78.1" r="1.6"/><circle class="b" cx="488.0" cy="142.4" r="1.6"/><circle class="r" cx="580.4" cy="132.5" r="1.6"/><circle class="b" cx="486.5" cy="124.6" r="1.6"/><circle class="b" cx="522.9" cy="133.0" r="1.6"/><circle class="r" cx="570.0" cy="124.6" r="1.6"/><circle class="b" cx="588.9" cy="98.7" r="1.6"/><circle class="b" cx="567.0" cy="135.0" r="1.6"/><circle class="r" cx="621.8" cy="144.4" r="1.6"/><circle class="r" cx="519.9" cy="140.0" r="1.6"/><circle class="b" cx="486.2" cy="112.7" r="1.6"/><circle class="r" cx="570.4" cy="133.0" r="1.6"/><circle class="r" cx="525.9" cy="146.9" r="1.6"/><circle class="b" cx="490.2" cy="89.6" r="1.6"/><circle class="r" cx="509.9" cy="142.9" r="1.6"/><circle class="r" cx="672.9" cy="146.8" r="1.6"/><circle class="b" cx="484.0" cy="131.8" r="1.6"/><circle class="r" cx="515.9" cy="141.8" r="1.6"/><circle class="r" cx="577.9" cy="141.9" r="1.6"/><circle class="b" cx="532.3" cy="123.5" r="1.6"/><circle class="r" cx="497.9" cy="154.4" r="1.6"/><circle class="r" cx="544.8" cy="147.4" r="1.6"/><circle class="r" cx="651.7" cy="138.7" r="1.6"/><circle class="b" cx="445.4" cy="145.4" r="1.6"/><circle class="r" cx="571.0" cy="149.7" r="1.6"/><circle class="b" cx="597.7" cy="117.2" r="1.6"/><circle class="b" cx="559.9" cy="149.0" r="1.6"/><circle class="r" cx="609.3" cy="138.5" r="1.6"/><circle class="b" cx="495.4" cy="148.9" r="1.6"/><circle class="b" cx="574.5" cy="144.8" r="1.6"/><circle class="b" cx="557.9" cy="114.1" r="1.6"/><circle class="r" cx="636.9" cy="146.3" r="1.6"/><circle class="r" cx="574.0" cy="144.1" r="1.6"/><circle class="r" cx="650.0" cy="147.9" r="1.6"/><circle class="b" cx="530.8" cy="146.4" r="1.6"/><circle class="r" cx="507.9" cy="137.0" r="1.6"/><circle class="b" cx="564.6" cy="124.6" r="1.6"/><circle class="r" cx="663.7" cy="150.7" r="1.6"/><circle class="b" cx="546.9" cy="124.6" r="1.6"/><circle class="r" cx="659.8" cy="139.2" r="1.6"/><circle class="b" cx="547.8" cy="128.0" r="1.6"/><circle class="b" cx="501.9" cy="140.0" r="1.6"/><circle class="b" cx="526.6" cy="67.3" r="1.6"/><circle class="r" cx="554.5" cy="131.5" r="1.6"/><circle class="b" cx="491.9" cy="123.0" r="1.6"/><circle class="b" cx="483.5" cy="150.9" r="1.6"/><circle class="b" cx="491.5" cy="148.4" r="1.6"/><circle class="b" cx="626.0" cy="140.8" r="1.6"/><circle class="b" cx="533.9" cy="119.9" r="1.6"/><circle class="b" cx="486.2" cy="110.0" r="1.6"/><circle class="r" cx="640.2" cy="144.1" r="1.6"/><circle class="b" cx="537.7" cy="106.7" r="1.6"/><circle class="r" cx="654.9" cy="145.7" r="1.6"/><circle class="r" cx="611.3" cy="152.9" r="1.6"/><circle class="b" cx="487.0" cy="150.9" r="1.6"/><circle class="r" cx="543.8" cy="151.9" r="1.6"/><circle class="b" cx="464.0" cy="146.7" r="1.6"/><circle class="b" cx="520.4" cy="144.9" r="1.6"/><circle class="b" cx="473.4" cy="124.9" r="1.6"/><circle class="b" cx="480.0" cy="128.0" r="1.6"/><circle class="r" cx="560.0" cy="146.9" r="1.6"/><circle class="b" cx="585.4" cy="145.4" r="1.6"/><circle class="r" cx="561.0" cy="138.0" r="1.6"/><circle class="r" cx="674.0" cy="138.7" r="1.6"/><circle class="r" cx="554.2" cy="145.7" r="1.6"/><circle class="b" cx="534.7" cy="101.3" r="1.6"/><circle class="r" cx="587.6" cy="152.2" r="1.6"/><circle class="r" cx="575.6" cy="145.2" r="1.6"/><circle class="b" cx="542.0" cy="115.2" r="1.6"/><circle class="b" cx="537.0" cy="112.5" r="1.6"/><circle class="r" cx="667.3" cy="145.7" r="1.6"/><circle class="r" cx="494.4" cy="126.0" r="1.6"/><circle class="b" cx="498.3" cy="105.1" r="1.6"/><circle class="r" cx="672.7" cy="122.6" r="1.6"/><circle class="r" cx="562.0" cy="124.6" r="1.6"/><circle class="r" cx="605.8" cy="146.9" r="1.6"/><circle class="r" cx="536.8" cy="138.0" r="1.6"/><circle class="b" cx="452.9" cy="135.2" r="1.6"/><circle class="b" cx="585.3" cy="144.5" r="1.6"/><circle class="b" cx="514.5" cy="78.4" r="1.6"/><circle class="r" cx="616.8" cy="148.9" r="1.6"/><circle class="r" cx="506.4" cy="134.0" r="1.6"/><circle class="b" cx="513.9" cy="132.5" r="1.6"/><circle class="b" cx="554.0" cy="146.4" r="1.6"/><circle class="r" cx="572.4" cy="148.9" r="1.6"/><circle class="b" cx="597.9" cy="148.9" r="1.6"/><circle class="b" cx="512.2" cy="144.6" r="1.6"/><circle class="b" cx="502.1" cy="116.5" r="1.6"/><circle class="b" cx="566.0" cy="149.4" r="1.6"/><circle class="b" cx="533.4" cy="121.9" r="1.6"/><circle class="b" cx="585.9" cy="147.9" r="1.6"/><circle class="b" cx="524.2" cy="89.3" r="1.6"/><circle class="b" cx="474.4" cy="102.6" r="1.6"/><circle class="r" cx="602.9" cy="144.9" r="1.6"/><circle class="b" cx="473.8" cy="148.9" r="1.6"/><circle class="b" cx="592.4" cy="142.4" r="1.6"/><circle class="b" cx="523.9" cy="144.9" r="1.6"/><circle class="r" cx="573.5" cy="148.9" r="1.6"/><circle class="r" cx="594.0" cy="95.4" r="1.6"/><circle class="b" cx="521.9" cy="142.9" r="1.6"/><circle class="b" cx="507.4" cy="108.4" r="1.6"/><circle class="r" cx="510.9" cy="140.9" r="1.6"/><circle class="r" cx="495.9" cy="129.0" r="1.6"/><circle class="r" cx="600.4" cy="119.9" r="1.6"/><circle class="b" cx="495.9" cy="142.4" r="1.6"/><circle class="b" cx="457.0" cy="136.2" r="1.6"/><circle class="r" cx="556.5" cy="145.9" r="1.6"/><circle class="b" cx="598.9" cy="138.0" r="1.6"/><circle class="b" cx="588.0" cy="149.0" r="1.6"/><circle class="r" cx="673.8" cy="80.8" r="1.6"/><circle class="r" cx="621.8" cy="126.0" r="1.6"/><circle class="b" cx="486.0" cy="126.0" r="1.6"/><circle class="b" cx="547.8" cy="126.0" r="1.6"/><circle class="b" cx="417.2" cy="123.5" r="1.6"/><circle class="b" cx="507.9" cy="142.9" r="1.6"/><circle class="r" cx="623.8" cy="138.5" r="1.6"/><circle class="b" cx="537.3" cy="135.0" r="1.6"/><circle class="r" cx="621.5" cy="124.6" r="1.6"/><circle class="b" cx="501.3" cy="121.2" r="1.6"/><circle class="r" cx="611.8" cy="129.0" r="1.6"/><circle class="b" cx="572.4" cy="148.4" r="1.6"/><circle class="b" cx="469.3" cy="130.2" r="1.6"/><circle class="r" cx="575.9" cy="143.4" r="1.6"/><circle class="b" cx="476.8" cy="131.8" r="1.6"/><circle class="b" cx="609.3" cy="128.5" r="1.6"/><circle class="r" cx="660.9" cy="136.5" r="1.6"/><circle class="b" cx="513.2" cy="107.3" r="1.6"/><circle class="b" cx="468.8" cy="146.9" r="1.6"/><circle class="r" cx="630.4" cy="128.3" r="1.6"/><circle class="r" cx="611.8" cy="135.5" r="1.6"/><circle class="r" cx="648.9" cy="139.2" r="1.6"/><circle class="r" cx="534.8" cy="145.9" r="1.6"/><circle class="r" cx="671.3" cy="148.5" r="1.6"/><circle class="b" cx="460.3" cy="139.8" r="1.6"/><circle class="r" cx="591.3" cy="152.4" r="1.6"/><circle class="b" cx="528.0" cy="111.1" r="1.6"/><circle class="r" cx="526.9" cy="137.5" r="1.6"/><circle class="r" cx="512.4" cy="123.5" r="1.6"/><circle class="b" cx="559.2" cy="138.8" r="1.6"/><circle class="b" cx="449.4" cy="144.9" r="1.6"/><circle class="b" cx="516.9" cy="150.9" r="1.6"/><circle class="r" cx="519.9" cy="148.9" r="1.6"/><circle class="r" cx="516.8" cy="140.8" r="1.6"/><circle class="b" cx="531.8" cy="148.9" r="1.6"/><circle class="b" cx="455.1" cy="128.2" r="1.6"/><circle class="r" cx="595.9" cy="151.4" r="1.6"/><circle class="r" cx="569.5" cy="139.0" r="1.6"/><circle class="b" cx="599.9" cy="146.0" r="1.6"/><circle class="b" cx="538.8" cy="145.9" r="1.6"/><circle class="r" cx="522.2" cy="145.7" r="1.6"/><circle class="b" cx="465.3" cy="141.4" r="1.6"/><circle class="b" cx="574.5" cy="97.2" r="1.6"/><circle class="r" cx="591.4" cy="145.5" r="1.6"/><circle class="r" cx="560.3" cy="144.9" r="1.6"/><circle class="r" cx="581.9" cy="144.4" r="1.6"/><circle class="b" cx="489.0" cy="131.5" r="1.6"/><circle class="r" cx="482.0" cy="125.5" r="1.6"/><circle class="r" cx="522.6" cy="148.6" r="1.6"/><circle class="r" cx="604.3" cy="150.9" r="1.6"/><circle class="b" cx="556.6" cy="85.5" r="1.6"/><circle class="r" cx="632.5" cy="149.9" r="1.6"/><circle class="r" cx="650.6" cy="141.9" r="1.6"/><circle class="r" cx="652.8" cy="146.3" r="1.6"/><circle class="b" cx="511.2" cy="150.0" r="1.6"/><circle class="r" cx="514.4" cy="147.0" r="1.6"/><circle class="b" cx="494.4" cy="137.5" r="1.6"/><circle class="r" cx="658.8" cy="145.2" r="1.6"/><circle class="b" cx="499.2" cy="147.4" r="1.6"/><circle class="b" cx="491.9" cy="121.2" r="1.6"/><circle class="b" cx="592.8" cy="149.8" r="1.6"/><circle class="b" cx="504.9" cy="135.0" r="1.6"/><circle class="b" cx="504.9" cy="144.9" r="1.6"/><circle class="r" cx="620.8" cy="141.4" r="1.6"/><circle class="b" cx="625.3" cy="140.9" r="1.6"/><circle class="r" cx="506.0" cy="140.8" r="1.6"/><circle class="r" cx="570.0" cy="125.5" r="1.6"/><circle class="b" cx="558.1" cy="137.7" r="1.6"/><circle class="r" cx="588.4" cy="146.9" r="1.6"/><circle class="b" cx="613.8" cy="140.4" r="1.6"/><circle class="r" cx="539.7" cy="121.0" r="1.6"/><circle class="r" cx="667.3" cy="132.6" r="1.6"/><circle class="r" cx="562.7" cy="139.2" r="1.6"/><circle class="r" cx="652.2" cy="118.5" r="1.6"/><circle class="r" cx="527.9" cy="148.4" r="1.6"/><circle class="b" cx="530.8" cy="126.5" r="1.6"/><circle class="r" cx="555.0" cy="140.9" r="1.6"/><circle class="r" cx="606.0" cy="124.6" r="1.6"/><circle class="r" cx="638.0" cy="140.3" r="1.6"/><circle class="b" cx="542.7" cy="106.7" r="1.6"/><circle class="b" cx="509.4" cy="94.7" r="1.6"/><circle class="b" cx="423.5" cy="123.9" r="1.6"/><circle class="r" cx="638.5" cy="125.5" r="1.6"/><circle class="b" cx="553.0" cy="138.0" r="1.6"/><circle class="r" cx="630.4" cy="125.5" r="1.6"/><circle class="b" cx="514.5" cy="143.6" r="1.6"/><circle class="b" cx="567.6" cy="142.9" r="1.6"/><circle class="b" cx="516.4" cy="136.0" r="1.6"/><circle class="b" cx="540.8" cy="144.4" r="1.6"/><circle class="b" cx="506.4" cy="147.9" r="1.6"/><circle class="b" cx="557.0" cy="132.5" r="1.6"/><circle class="b" cx="588.2" cy="86.2" r="1.6"/><circle class="b" cx="499.0" cy="115.2" r="1.6"/><circle class="r" cx="586.4" cy="125.5" r="1.6"/><circle class="b" cx="516.8" cy="96.3" r="1.6"/><circle class="r" cx="685.5" cy="146.3" r="1.6"/><circle class="b" cx="529.3" cy="55.7" r="1.6"/><circle class="r" cx="570.0" cy="144.9" r="1.6"/><circle class="b" cx="571.1" cy="101.0" r="1.6"/><circle class="b" cx="484.5" cy="135.0" r="1.6"/><circle class="b" cx="597.4" cy="137.0" r="1.6"/><circle class="b" cx="493.0" cy="130.0" r="1.6"/><circle class="b" cx="541.3" cy="129.5" r="1.6"/><circle class="b" cx="505.4" cy="107.8" r="1.6"/><circle class="r" cx="582.4" cy="154.4" r="1.6"/><circle class="r" cx="598.9" cy="143.4" r="1.6"/><circle class="r" cx="682.8" cy="143.0" r="1.6"/><circle class="b" cx="589.6" cy="102.4" r="1.6"/><circle class="r" cx="643.4" cy="111.1" r="1.6"/><circle class="b" cx="546.9" cy="73.4" r="1.6"/><circle class="b" cx="431.4" cy="121.6" r="1.6"/><circle class="b" cx="456.6" cy="119.2" r="1.6"/><circle class="r" cx="477.3" cy="150.4" r="1.6"/><circle class="b" cx="552.8" cy="17.7" r="1.6"/><circle class="b" cx="478.0" cy="132.0" r="1.6"/><circle class="r" cx="589.4" cy="141.9" r="1.6"/><circle class="r" cx="589.9" cy="144.9" r="1.6"/><circle class="b" cx="473.4" cy="94.5" r="1.6"/><circle class="b" cx="525.6" cy="93.3" r="1.6"/><circle class="b" cx="482.5" cy="137.5" r="1.6"/><circle class="r" cx="558.0" cy="148.2" r="1.6"/><circle class="b" cx="568.0" cy="143.9" r="1.6"/></g>
<rect x="403.9" y="11.2" width="302.6" height="150.0" fill="none" stroke="#5c5c5c" stroke-width="1.2"/>
<line x1="400.4" y1="155.9" x2="403.9" y2="155.9" stroke="#5c5c5c" stroke-width="1.1"/>
<text x="398.9" y="160.9" font-size="14.5" text-anchor="end" fill="#111111" font-weight="normal" >0</text>
<line x1="400.4" y1="126.5" x2="403.9" y2="126.5" stroke="#5c5c5c" stroke-width="1.1"/>
<text x="398.9" y="131.5" font-size="14.5" text-anchor="end" fill="#111111" font-weight="normal" >2</text>
<line x1="400.4" y1="97.10000000000001" x2="403.9" y2="97.10000000000001" stroke="#5c5c5c" stroke-width="1.1"/>
<text x="398.9" y="102.10000000000001" font-size="14.5" text-anchor="end" fill="#111111" font-weight="normal" >4</text>
<line x1="400.4" y1="67.70000000000002" x2="403.9" y2="67.70000000000002" stroke="#5c5c5c" stroke-width="1.1"/>
<text x="398.9" y="72.70000000000002" font-size="14.5" text-anchor="end" fill="#111111" font-weight="normal" >6</text>
<line x1="400.4" y1="38.30000000000001" x2="403.9" y2="38.30000000000001" stroke="#5c5c5c" stroke-width="1.1"/>
<text x="398.9" y="43.30000000000001" font-size="14.5" text-anchor="end" fill="#111111" font-weight="normal" >8</text>
<line x1="442.6" y1="161.2" x2="442.6" y2="163.2" stroke="#5c5c5c" stroke-width="0.8"/>
<line x1="466.6" y1="161.2" x2="466.6" y2="163.2" stroke="#5c5c5c" stroke-width="0.8"/>
<line x1="483.6" y1="161.2" x2="483.6" y2="163.2" stroke="#5c5c5c" stroke-width="0.8"/>
<line x1="496.8" y1="161.2" x2="496.8" y2="163.2" stroke="#5c5c5c" stroke-width="0.8"/>
<line x1="507.5" y1="161.2" x2="507.5" y2="163.2" stroke="#5c5c5c" stroke-width="0.8"/>
<line x1="516.6" y1="161.2" x2="516.6" y2="163.2" stroke="#5c5c5c" stroke-width="0.8"/>
<line x1="524.5" y1="161.2" x2="524.5" y2="163.2" stroke="#5c5c5c" stroke-width="0.8"/>
<line x1="531.5" y1="161.2" x2="531.5" y2="163.2" stroke="#5c5c5c" stroke-width="0.8"/>
<line x1="537.7" y1="161.2" x2="537.7" y2="164.7" stroke="#5c5c5c" stroke-width="1.1"/>
<line x1="578.6" y1="161.2" x2="578.6" y2="163.2" stroke="#5c5c5c" stroke-width="0.8"/>
<line x1="602.6" y1="161.2" x2="602.6" y2="163.2" stroke="#5c5c5c" stroke-width="0.8"/>
<line x1="619.6" y1="161.2" x2="619.6" y2="163.2" stroke="#5c5c5c" stroke-width="0.8"/>
<line x1="632.8" y1="161.2" x2="632.8" y2="163.2" stroke="#5c5c5c" stroke-width="0.8"/>
<line x1="643.5" y1="161.2" x2="643.5" y2="163.2" stroke="#5c5c5c" stroke-width="0.8"/>
<line x1="652.6" y1="161.2" x2="652.6" y2="163.2" stroke="#5c5c5c" stroke-width="0.8"/>
<line x1="660.5" y1="161.2" x2="660.5" y2="163.2" stroke="#5c5c5c" stroke-width="0.8"/>
<line x1="667.5" y1="161.2" x2="667.5" y2="163.2" stroke="#5c5c5c" stroke-width="0.8"/>
<text x="538.2" y="180.2" font-size="15" text-anchor="middle" fill="#111111" font-weight="normal" >10<tspan font-size="10.5" dy="-8">3</tspan></text>
<text x="674.2" y="180.2" font-size="15" text-anchor="middle" fill="#111111" font-weight="normal" >10<tspan font-size="10.5" dy="-8">4</tspan></text>
<text x="504.9" y="197.5" font-size="16.1" text-anchor="start" fill="#111111" font-weight="normal" >Num. of Qubits</text>
<text x="0" y="0" font-size="16.3" text-anchor="middle" fill="#111111" transform="translate(384.5,87) rotate(-90)">mRMSD (Å)</text>
<text x="369.6" y="20.5" font-size="18" text-anchor="start" fill="#111111" font-weight="bold" >(B)</text>
<text x="410.2" y="27.0" font-size="15.5" text-anchor="start" fill="#dc4c56" font-weight="normal" >R<tspan font-size="9.8" dy="-5">2</tspan><tspan dy="5">=0.014</tspan></text>
<text x="410.2" y="45.6" font-size="15.5" text-anchor="start" fill="#6262d8" font-weight="normal" >R<tspan font-size="9.8" dy="-5">2</tspan><tspan dy="5">=0.006</tspan></text>
<circle cx="633.8" cy="29.5" r="5.6" fill="#ee4a4e"/>
<circle cx="633.8" cy="50.9" r="5.6" fill="#6a6af0"/>
<text x="661" y="35.4" font-size="14.8" text-anchor="start" fill="#111111" font-weight="normal" >GPM</text>
<text x="661" y="56.6" font-size="14.8" text-anchor="start" fill="#111111" font-weight="normal" >FAM</text>
<g fill="#ea464c"><circle cx="199.5" cy="235.5" r="1.6"/><circle cx="187.7" cy="249.3" r="1.6"/><circle cx="176.2" cy="263.4" r="1.6"/><circle cx="162.5" cy="273.8" r="1.6"/><circle cx="171.5" cy="274.2" r="1.6"/><circle cx="154.0" cy="281.3" r="1.6"/><circle cx="153.8" cy="282.5" r="1.6"/><circle cx="153.8" cy="286.0" r="1.6"/><circle cx="146.9" cy="292.5" r="1.6"/><circle cx="147.9" cy="293.5" r="1.6"/><circle cx="144.9" cy="297.0" r="1.6"/><circle cx="134.4" cy="305.9" r="1.6"/><circle cx="132.9" cy="308.9" r="1.6"/><circle cx="132.9" cy="310.9" r="1.6"/><circle cx="137.9" cy="313.9" r="1.6"/><circle cx="156.8" cy="314.1" r="1.6"/><circle cx="126.4" cy="314.9" r="1.6"/><circle cx="122.9" cy="316.9" r="1.6"/><circle cx="121.9" cy="318.9" r="1.6"/><circle cx="123.9" cy="319.9" r="1.6"/><circle cx="124.9" cy="318.9" r="1.6"/><circle cx="119.9" cy="320.9" r="1.6"/><circle cx="134.4" cy="320.9" r="1.6"/><circle cx="130.9" cy="318.9" r="1.6"/><circle cx="119.9" cy="323.4" r="1.6"/><circle cx="121.9" cy="323.4" r="1.6"/><circle cx="112.7" cy="359.4" r="1.6"/><circle cx="104.2" cy="365.9" r="1.6"/><circle cx="102.3" cy="370.7" r="1.6"/><circle cx="95.7" cy="373.5" r="1.6"/><circle cx="88.2" cy="373.5" r="1.6"/><circle cx="105.2" cy="337.7" r="1.6"/><circle cx="99.5" cy="345.2" r="1.6"/><circle cx="106.1" cy="354.6" r="1.6"/><circle cx="90.1" cy="360.3" r="1.6"/><circle cx="116.5" cy="344.3" r="1.6"/><circle cx="109.9" cy="334.9" r="1.6"/><circle cx="118.3" cy="328.3" r="1.6"/><circle cx="125.9" cy="330.1" r="1.6"/><circle cx="120.2" cy="333.0" r="1.6"/><circle cx="111.7" cy="329.2" r="1.6"/><circle cx="113.6" cy="324.5" r="1.6"/><circle cx="106.4" cy="335.9" r="1.6"/><circle cx="103.4" cy="347.6" r="1.6"/><circle cx="100.5" cy="366.1" r="1.6"/><circle cx="104.5" cy="348.9" r="1.6"/><circle cx="111.8" cy="344.6" r="1.6"/><circle cx="97.5" cy="365.6" r="1.6"/><circle cx="94.2" cy="356.3" r="1.6"/><circle cx="106.1" cy="347.9" r="1.6"/><circle cx="107.2" cy="350.1" r="1.6"/><circle cx="97.7" cy="356.4" r="1.6"/><circle cx="101.3" cy="345.0" r="1.6"/><circle cx="95.8" cy="356.0" r="1.6"/><circle cx="103.2" cy="368.0" r="1.6"/><circle cx="108.5" cy="344.5" r="1.6"/><circle cx="115.0" cy="337.7" r="1.6"/><circle cx="100.4" cy="363.3" r="1.6"/><circle cx="93.5" cy="352.6" r="1.6"/><circle cx="90.5" cy="359.7" r="1.6"/><circle cx="109.4" cy="355.9" r="1.6"/><circle cx="112.3" cy="345.6" r="1.6"/><circle cx="107.6" cy="356.8" r="1.6"/><circle cx="104.6" cy="351.2" r="1.6"/><circle cx="101.8" cy="359.6" r="1.6"/><circle cx="91.1" cy="361.1" r="1.6"/><circle cx="110.9" cy="344.4" r="1.6"/><circle cx="99.5" cy="359.8" r="1.6"/><circle cx="91.0" cy="363.7" r="1.6"/><circle cx="99.7" cy="367.9" r="1.6"/><circle cx="103.8" cy="368.3" r="1.6"/><circle cx="96.7" cy="349.6" r="1.6"/><circle cx="98.8" cy="368.4" r="1.6"/><circle cx="114.4" cy="339.0" r="1.6"/><circle cx="95.6" cy="352.4" r="1.6"/><circle cx="104.8" cy="343.5" r="1.6"/><circle cx="99.1" cy="355.6" r="1.6"/><circle cx="102.9" cy="357.7" r="1.6"/><circle cx="107.1" cy="335.2" r="1.6"/><circle cx="99.7" cy="349.0" r="1.6"/><circle cx="92.2" cy="358.4" r="1.6"/><circle cx="90.2" cy="368.0" r="1.6"/><circle cx="105.5" cy="338.9" r="1.6"/><circle cx="101.6" cy="352.4" r="1.6"/><circle cx="111.0" cy="339.5" r="1.6"/><circle cx="103.2" cy="338.9" r="1.6"/><circle cx="103.2" cy="372.1" r="1.6"/><circle cx="93.8" cy="363.9" r="1.6"/><circle cx="103.3" cy="364.2" r="1.6"/><circle cx="95.4" cy="353.7" r="1.6"/><circle cx="96.2" cy="360.7" r="1.6"/><circle cx="111.3" cy="352.2" r="1.6"/><circle cx="106.5" cy="365.0" r="1.6"/><circle cx="91.7" cy="359.4" r="1.6"/><circle cx="109.0" cy="352.1" r="1.6"/><circle cx="94.1" cy="364.6" r="1.6"/><circle cx="98.2" cy="365.0" r="1.6"/><circle cx="99.9" cy="370.9" r="1.6"/><circle cx="108.3" cy="339.8" r="1.6"/><circle cx="93.3" cy="366.1" r="1.6"/><circle cx="98.6" cy="354.9" r="1.6"/><circle cx="103.2" cy="370.3" r="1.6"/><circle cx="100.8" cy="367.9" r="1.6"/><circle cx="111.0" cy="341.4" r="1.6"/><circle cx="95.8" cy="356.5" r="1.6"/><circle cx="96.2" cy="349.8" r="1.6"/><circle cx="92.9" cy="369.4" r="1.6"/><circle cx="98.7" cy="351.3" r="1.6"/><circle cx="104.7" cy="369.2" r="1.6"/><circle cx="100.4" cy="369.7" r="1.6"/><circle cx="102.5" cy="354.3" r="1.6"/><circle cx="94.0" cy="351.9" r="1.6"/><circle cx="108.4" cy="355.3" r="1.6"/><circle cx="98.0" cy="353.7" r="1.6"/><circle cx="103.9" cy="364.4" r="1.6"/><circle cx="92.3" cy="355.4" r="1.6"/><circle cx="109.6" cy="353.3" r="1.6"/><circle cx="104.1" cy="363.4" r="1.6"/><circle cx="105.4" cy="353.2" r="1.6"/><circle cx="102.8" cy="360.7" r="1.6"/><circle cx="101.3" cy="354.3" r="1.6"/><circle cx="101.9" cy="370.7" r="1.6"/><circle cx="104.0" cy="370.7" r="1.6"/><circle cx="111.3" cy="338.5" r="1.6"/><circle cx="91.4" cy="359.8" r="1.6"/><circle cx="93.5" cy="361.6" r="1.6"/><circle cx="106.7" cy="338.7" r="1.6"/><circle cx="95.2" cy="371.1" r="1.6"/><circle cx="99.8" cy="352.5" r="1.6"/><circle cx="102.9" cy="346.6" r="1.6"/><circle cx="103.9" cy="350.6" r="1.6"/><circle cx="105.7" cy="353.5" r="1.6"/><circle cx="90.5" cy="364.2" r="1.6"/><circle cx="100.5" cy="369.5" r="1.6"/><circle cx="110.8" cy="343.3" r="1.6"/><circle cx="93.4" cy="369.8" r="1.6"/><circle cx="104.3" cy="361.0" r="1.6"/><circle cx="107.4" cy="350.0" r="1.6"/><circle cx="91.4" cy="370.5" r="1.6"/><circle cx="106.0" cy="365.1" r="1.6"/><circle cx="91.7" cy="367.2" r="1.6"/><circle cx="91.2" cy="367.5" r="1.6"/><circle cx="101.3" cy="346.6" r="1.6"/><circle cx="103.9" cy="370.1" r="1.6"/><circle cx="103.2" cy="342.5" r="1.6"/><circle cx="109.2" cy="344.6" r="1.6"/><circle cx="102.5" cy="340.1" r="1.6"/><circle cx="108.6" cy="355.0" r="1.6"/><circle cx="94.4" cy="352.0" r="1.6"/><circle cx="113.8" cy="337.2" r="1.6"/><circle cx="110.8" cy="350.3" r="1.6"/><circle cx="102.4" cy="366.4" r="1.6"/><circle cx="99.7" cy="353.3" r="1.6"/><circle cx="98.4" cy="366.3" r="1.6"/><circle cx="107.9" cy="358.4" r="1.6"/><circle cx="100.0" cy="346.9" r="1.6"/><circle cx="91.3" cy="362.6" r="1.6"/><circle cx="91.7" cy="366.6" r="1.6"/><circle cx="97.1" cy="351.4" r="1.6"/><circle cx="96.3" cy="371.5" r="1.6"/><circle cx="95.9" cy="371.6" r="1.6"/><circle cx="97.5" cy="347.3" r="1.6"/><circle cx="101.8" cy="353.1" r="1.6"/><circle cx="94.7" cy="353.2" r="1.6"/><circle cx="104.7" cy="354.2" r="1.6"/><circle cx="109.0" cy="359.3" r="1.6"/><circle cx="99.6" cy="346.1" r="1.6"/><circle cx="108.3" cy="358.7" r="1.6"/><circle cx="90.6" cy="366.4" r="1.6"/><circle cx="93.1" cy="353.9" r="1.6"/><circle cx="102.6" cy="366.4" r="1.6"/><circle cx="104.7" cy="368.7" r="1.6"/><circle cx="107.3" cy="360.7" r="1.6"/><circle cx="92.2" cy="366.4" r="1.6"/><circle cx="104.0" cy="358.1" r="1.6"/><circle cx="105.8" cy="360.2" r="1.6"/><circle cx="102.6" cy="354.4" r="1.6"/><circle cx="106.6" cy="335.6" r="1.6"/><circle cx="108.7" cy="343.1" r="1.6"/><circle cx="108.5" cy="341.2" r="1.6"/><circle cx="102.3" cy="348.3" r="1.6"/><circle cx="102.0" cy="360.4" r="1.6"/><circle cx="109.4" cy="357.7" r="1.6"/><circle cx="106.2" cy="336.1" r="1.6"/><circle cx="108.8" cy="345.2" r="1.6"/><circle cx="107.0" cy="360.7" r="1.6"/><circle cx="107.1" cy="344.6" r="1.6"/><circle cx="102.9" cy="351.6" r="1.6"/><circle cx="112.7" cy="341.0" r="1.6"/><circle cx="101.2" cy="343.8" r="1.6"/><circle cx="95.0" cy="370.8" r="1.6"/><circle cx="95.0" cy="356.3" r="1.6"/><circle cx="93.2" cy="354.0" r="1.6"/><circle cx="114.3" cy="338.3" r="1.6"/><circle cx="110.8" cy="353.4" r="1.6"/><circle cx="95.5" cy="368.9" r="1.6"/><circle cx="101.2" cy="345.1" r="1.6"/><circle cx="97.7" cy="366.6" r="1.6"/><circle cx="111.3" cy="337.8" r="1.6"/><circle cx="112.9" cy="344.6" r="1.6"/><circle cx="99.2" cy="348.7" r="1.6"/><circle cx="98.9" cy="350.1" r="1.6"/></g>
<rect x="57.5" y="210.3" width="167.9" height="166.8" fill="none" stroke="#5c5c5c" stroke-width="1.2"/>
<line x1="54.0" y1="377.1" x2="57.5" y2="377.1" stroke="#5c5c5c" stroke-width="1.1"/>
<text x="52.5" y="382.1" font-size="14.5" text-anchor="end" fill="#111111" font-weight="normal" >0</text>
<line x1="54.0" y1="349.3" x2="57.5" y2="349.3" stroke="#5c5c5c" stroke-width="1.1"/>
<text x="52.5" y="354.3" font-size="14.5" text-anchor="end" fill="#111111" font-weight="normal" >1</text>
<line x1="54.0" y1="321.5" x2="57.5" y2="321.5" stroke="#5c5c5c" stroke-width="1.1"/>
<text x="52.5" y="326.5" font-size="14.5" text-anchor="end" fill="#111111" font-weight="normal" >2</text>
<line x1="54.0" y1="293.70000000000005" x2="57.5" y2="293.70000000000005" stroke="#5c5c5c" stroke-width="1.1"/>
<text x="52.5" y="298.70000000000005" font-size="14.5" text-anchor="end" fill="#111111" font-weight="normal" >3</text>
<line x1="54.0" y1="265.90000000000003" x2="57.5" y2="265.90000000000003" stroke="#5c5c5c" stroke-width="1.1"/>
<text x="52.5" y="270.90000000000003" font-size="14.5" text-anchor="end" fill="#111111" font-weight="normal" >4</text>
<line x1="54.0" y1="238.10000000000002" x2="57.5" y2="238.10000000000002" stroke="#5c5c5c" stroke-width="1.1"/>
<text x="52.5" y="243.10000000000002" font-size="14.5" text-anchor="end" fill="#111111" font-weight="normal" >5</text>
<line x1="54.0" y1="210.3" x2="57.5" y2="210.3" stroke="#5c5c5c" stroke-width="1.1"/>
<text x="52.5" y="215.3" font-size="14.5" text-anchor="end" fill="#111111" font-weight="normal" >6</text>
<line x1="58.1" y1="377.1" x2="58.1" y2="380.6" stroke="#5c5c5c" stroke-width="1.1"/>
<text x="58.1" y="393.3" font-size="14.5" text-anchor="middle" fill="#111111" font-weight="normal" >0</text>
<line x1="85.98" y1="377.1" x2="85.98" y2="380.6" stroke="#5c5c5c" stroke-width="1.1"/>
<text x="85.98" y="393.3" font-size="14.5" text-anchor="middle" fill="#111111" font-weight="normal" >1</text>
<line x1="113.86" y1="377.1" x2="113.86" y2="380.6" stroke="#5c5c5c" stroke-width="1.1"/>
<text x="113.86" y="393.3" font-size="14.5" text-anchor="middle" fill="#111111" font-weight="normal" >2</text>
<line x1="141.74" y1="377.1" x2="141.74" y2="380.6" stroke="#5c5c5c" stroke-width="1.1"/>
<text x="141.74" y="393.3" font-size="14.5" text-anchor="middle" fill="#111111" font-weight="normal" >3</text>
<line x1="169.62" y1="377.1" x2="169.62" y2="380.6" stroke="#5c5c5c" stroke-width="1.1"/>
<text x="169.62" y="393.3" font-size="14.5" text-anchor="middle" fill="#111111" font-weight="normal" >4</text>
<line x1="197.5" y1="377.1" x2="197.5" y2="380.6" stroke="#5c5c5c" stroke-width="1.1"/>
<text x="197.5" y="393.3" font-size="14.5" text-anchor="middle" fill="#111111" font-weight="normal" >5</text>
<line x1="225.38" y1="377.1" x2="225.38" y2="380.6" stroke="#5c5c5c" stroke-width="1.1"/>
<text x="225.38" y="393.3" font-size="14.5" text-anchor="middle" fill="#111111" font-weight="normal" >6</text>
<line x1="92.6" y1="365.4" x2="217.6" y2="210.3" stroke="#000" stroke-width="2.3"/>
<text x="84.2" y="413.4" font-size="16.45" text-anchor="start" fill="#111111" font-weight="normal" >Discret. Error (Å)</text>
<text x="0" y="0" font-size="16.3" text-anchor="middle" fill="#111111" transform="translate(39.5,295) rotate(-90)">mRMSD (Å)</text>
<text x="17.4" y="219.5" font-size="18" text-anchor="start" fill="#111111" font-weight="bold" >(C)</text>
<text x="70.6" y="232.5" font-size="15.4" text-anchor="start" fill="#111111" font-weight="normal" >y=1.25x-1.08</text>
<text x="82.8" y="251.4" font-size="15.4" text-anchor="start" fill="#111111" font-weight="normal" >R<tspan font-size="10" dy="-5.3">2</tspan><tspan dy="5.3">=0.916</tspan></text>
<text x="189.6" y="372" font-size="13.6" text-anchor="start" fill="#111111" font-weight="normal" >GPM</text>
<g fill="#6a6aea"><circle cx="356.4" cy="282.9" r="1.6"/><circle cx="364.9" cy="279.4" r="1.6"/><circle cx="358.4" cy="294.4" r="1.6"/><circle cx="348.9" cy="298.9" r="1.6"/><circle cx="420.4" cy="247.4" r="1.6"/><circle cx="358.3" cy="294.2" r="1.6"/><circle cx="348.9" cy="299.5" r="1.6"/><circle cx="348.4" cy="304.5" r="1.6"/><circle cx="354.6" cy="305.9" r="1.6"/><circle cx="328.4" cy="311.1" r="1.6"/><circle cx="336.9" cy="311.1" r="1.6"/><circle cx="329.9" cy="314.4" r="1.6"/><circle cx="331.9" cy="315.4" r="1.6"/><circle cx="329.4" cy="316.1" r="1.6"/><circle cx="344.9" cy="314.1" r="1.6"/><circle cx="334.4" cy="319.4" r="1.6"/><circle cx="344.4" cy="322.9" r="1.6"/><circle cx="321.4" cy="318.1" r="1.6"/><circle cx="311.5" cy="319.1" r="1.6"/><circle cx="321.9" cy="322.1" r="1.6"/><circle cx="317.4" cy="324.4" r="1.6"/><circle cx="318.9" cy="325.4" r="1.6"/><circle cx="316.9" cy="327.4" r="1.6"/><circle cx="323.4" cy="325.9" r="1.6"/><circle cx="329.9" cy="322.9" r="1.6"/><circle cx="318.4" cy="328.4" r="1.6"/><circle cx="313.0" cy="330.4" r="1.6"/><circle cx="315.0" cy="330.4" r="1.6"/><circle cx="309.5" cy="331.4" r="1.6"/><circle cx="319.9" cy="330.9" r="1.6"/><circle cx="327.4" cy="324.9" r="1.6"/><circle cx="299.8" cy="337.1" r="1.6"/><circle cx="297.5" cy="346.7" r="1.6"/><circle cx="289.0" cy="362.6" r="1.6"/><circle cx="294.1" cy="373.3" r="1.6"/><circle cx="289.6" cy="373.9" r="1.6"/><circle cx="315.6" cy="342.8" r="1.6"/><circle cx="320.2" cy="338.2" r="1.6"/><circle cx="311.1" cy="352.4" r="1.6"/><circle cx="300.7" cy="355.5" r="1.6"/><circle cx="301.3" cy="353.0" r="1.6"/><circle cx="314.9" cy="341.6" r="1.6"/><circle cx="319.6" cy="338.8" r="1.6"/><circle cx="314.7" cy="344.5" r="1.6"/><circle cx="307.2" cy="346.5" r="1.6"/><circle cx="291.4" cy="362.4" r="1.6"/><circle cx="297.1" cy="356.1" r="1.6"/><circle cx="281.8" cy="372.3" r="1.6"/><circle cx="296.3" cy="361.5" r="1.6"/><circle cx="297.7" cy="356.6" r="1.6"/><circle cx="294.1" cy="361.2" r="1.6"/><circle cx="288.4" cy="372.1" r="1.6"/><circle cx="295.3" cy="360.6" r="1.6"/><circle cx="297.8" cy="356.6" r="1.6"/><circle cx="300.5" cy="358.9" r="1.6"/><circle cx="312.1" cy="337.3" r="1.6"/><circle cx="296.1" cy="362.1" r="1.6"/><circle cx="300.8" cy="358.7" r="1.6"/><circle cx="297.4" cy="355.9" r="1.6"/><circle cx="289.9" cy="363.3" r="1.6"/><circle cx="290.3" cy="371.8" r="1.6"/><circle cx="300.2" cy="355.1" r="1.6"/><circle cx="315.9" cy="337.0" r="1.6"/><circle cx="315.4" cy="335.4" r="1.6"/><circle cx="322.4" cy="332.8" r="1.6"/><circle cx="303.9" cy="356.1" r="1.6"/><circle cx="304.4" cy="352.8" r="1.6"/><circle cx="303.5" cy="347.9" r="1.6"/><circle cx="305.5" cy="352.2" r="1.6"/><circle cx="286.6" cy="366.0" r="1.6"/><circle cx="310.9" cy="344.1" r="1.6"/><circle cx="299.0" cy="354.1" r="1.6"/><circle cx="312.7" cy="341.1" r="1.6"/><circle cx="315.4" cy="334.7" r="1.6"/><circle cx="303.4" cy="355.9" r="1.6"/><circle cx="321.4" cy="333.3" r="1.6"/><circle cx="314.3" cy="344.4" r="1.6"/><circle cx="303.5" cy="349.3" r="1.6"/><circle cx="317.8" cy="337.4" r="1.6"/><circle cx="308.4" cy="348.1" r="1.6"/><circle cx="310.0" cy="344.9" r="1.6"/><circle cx="305.8" cy="354.2" r="1.6"/><circle cx="305.0" cy="353.0" r="1.6"/><circle cx="321.6" cy="336.4" r="1.6"/><circle cx="293.4" cy="363.0" r="1.6"/><circle cx="299.7" cy="351.6" r="1.6"/><circle cx="308.2" cy="345.9" r="1.6"/><circle cx="313.9" cy="337.8" r="1.6"/><circle cx="319.3" cy="330.6" r="1.6"/><circle cx="314.5" cy="338.9" r="1.6"/><circle cx="292.2" cy="367.5" r="1.6"/><circle cx="285.2" cy="370.6" r="1.6"/><circle cx="294.0" cy="365.9" r="1.6"/><circle cx="296.6" cy="363.5" r="1.6"/><circle cx="303.5" cy="354.8" r="1.6"/><circle cx="309.3" cy="340.5" r="1.6"/><circle cx="301.0" cy="356.7" r="1.6"/><circle cx="291.3" cy="363.1" r="1.6"/><circle cx="314.0" cy="343.6" r="1.6"/><circle cx="304.0" cy="353.4" r="1.6"/><circle cx="316.8" cy="332.6" r="1.6"/><circle cx="301.9" cy="351.1" r="1.6"/><circle cx="294.2" cy="366.5" r="1.6"/><circle cx="312.2" cy="345.9" r="1.6"/><circle cx="312.0" cy="340.1" r="1.6"/><circle cx="310.1" cy="341.0" r="1.6"/><circle cx="311.9" cy="337.3" r="1.6"/><circle cx="298.5" cy="362.2" r="1.6"/><circle cx="304.9" cy="345.6" r="1.6"/><circle cx="286.4" cy="375.3" r="1.6"/><circle cx="294.4" cy="360.9" r="1.6"/><circle cx="297.6" cy="357.1" r="1.6"/><circle cx="297.9" cy="356.0" r="1.6"/><circle cx="305.8" cy="344.6" r="1.6"/><circle cx="287.3" cy="374.6" r="1.6"/><circle cx="303.9" cy="353.9" r="1.6"/><circle cx="294.3" cy="357.1" r="1.6"/><circle cx="302.9" cy="347.7" r="1.6"/><circle cx="284.0" cy="372.4" r="1.6"/><circle cx="290.7" cy="364.5" r="1.6"/><circle cx="282.4" cy="371.7" r="1.6"/><circle cx="289.5" cy="368.8" r="1.6"/><circle cx="289.4" cy="370.9" r="1.6"/><circle cx="294.4" cy="362.7" r="1.6"/><circle cx="297.2" cy="360.4" r="1.6"/><circle cx="310.1" cy="342.0" r="1.6"/><circle cx="300.2" cy="354.0" r="1.6"/><circle cx="316.0" cy="332.9" r="1.6"/><circle cx="313.9" cy="340.5" r="1.6"/><circle cx="309.1" cy="345.9" r="1.6"/><circle cx="315.0" cy="336.6" r="1.6"/><circle cx="315.5" cy="340.0" r="1.6"/><circle cx="292.5" cy="366.9" r="1.6"/><circle cx="294.7" cy="358.5" r="1.6"/><circle cx="284.9" cy="368.0" r="1.6"/><circle cx="313.0" cy="339.7" r="1.6"/><circle cx="296.0" cy="362.0" r="1.6"/><circle cx="315.1" cy="339.0" r="1.6"/><circle cx="318.6" cy="338.5" r="1.6"/><circle cx="287.7" cy="373.6" r="1.6"/><circle cx="284.6" cy="371.0" r="1.6"/><circle cx="299.5" cy="354.8" r="1.6"/><circle cx="294.0" cy="360.8" r="1.6"/><circle cx="290.4" cy="361.7" r="1.6"/><circle cx="310.0" cy="340.2" r="1.6"/><circle cx="306.5" cy="351.2" r="1.6"/><circle cx="301.5" cy="358.2" r="1.6"/><circle cx="296.8" cy="356.3" r="1.6"/><circle cx="308.1" cy="348.4" r="1.6"/><circle cx="293.0" cy="368.4" r="1.6"/><circle cx="291.0" cy="361.3" r="1.6"/><circle cx="294.7" cy="363.0" r="1.6"/><circle cx="316.9" cy="336.3" r="1.6"/><circle cx="302.4" cy="355.7" r="1.6"/><circle cx="293.5" cy="364.6" r="1.6"/><circle cx="288.1" cy="370.2" r="1.6"/><circle cx="298.1" cy="363.0" r="1.6"/><circle cx="312.2" cy="344.4" r="1.6"/><circle cx="315.9" cy="334.7" r="1.6"/></g>
<rect x="276.3" y="210.6" width="167.2" height="166.50000000000003" fill="none" stroke="#5c5c5c" stroke-width="1.2"/>
<line x1="272.8" y1="377.1" x2="276.3" y2="377.1" stroke="#5c5c5c" stroke-width="1.1"/>
<text x="271.3" y="382.1" font-size="14.5" text-anchor="end" fill="#111111" font-weight="normal" >0</text>
<line x1="272.8" y1="349.6" x2="276.3" y2="349.6" stroke="#5c5c5c" stroke-width="1.1"/>
<text x="271.3" y="354.6" font-size="14.5" text-anchor="end" fill="#111111" font-weight="normal" >2</text>
<line x1="272.8" y1="322.1" x2="276.3" y2="322.1" stroke="#5c5c5c" stroke-width="1.1"/>
<text x="271.3" y="327.1" font-size="14.5" text-anchor="end" fill="#111111" font-weight="normal" >4</text>
<line x1="272.8" y1="294.6" x2="276.3" y2="294.6" stroke="#5c5c5c" stroke-width="1.1"/>
<text x="271.3" y="299.6" font-size="14.5" text-anchor="end" fill="#111111" font-weight="normal" >6</text>
<line x1="272.8" y1="267.1" x2="276.3" y2="267.1" stroke="#5c5c5c" stroke-width="1.1"/>
<text x="271.3" y="272.1" font-size="14.5" text-anchor="end" fill="#111111" font-weight="normal" >8</text>
<line x1="272.8" y1="239.60000000000002" x2="276.3" y2="239.60000000000002" stroke="#5c5c5c" stroke-width="1.1"/>
<text x="271.3" y="244.60000000000002" font-size="14.5" text-anchor="end" fill="#111111" font-weight="normal" >10</text>
<line x1="272.8" y1="212.10000000000002" x2="276.3" y2="212.10000000000002" stroke="#5c5c5c" stroke-width="1.1"/>
<text x="271.3" y="217.10000000000002" font-size="14.5" text-anchor="end" fill="#111111" font-weight="normal" >12</text>
<line x1="300.4" y1="377.1" x2="300.4" y2="380.6" stroke="#5c5c5c" stroke-width="1.1"/>
<text x="300.4" y="393.3" font-size="14.5" text-anchor="middle" fill="#111111" font-weight="normal" >2</text>
<line x1="327.8" y1="377.1" x2="327.8" y2="380.6" stroke="#5c5c5c" stroke-width="1.1"/>
<text x="327.8" y="393.3" font-size="14.5" text-anchor="middle" fill="#111111" font-weight="normal" >4</text>
<line x1="355.2" y1="377.1" x2="355.2" y2="380.6" stroke="#5c5c5c" stroke-width="1.1"/>
<text x="355.2" y="393.3" font-size="14.5" text-anchor="middle" fill="#111111" font-weight="normal" >6</text>
<line x1="382.6" y1="377.1" x2="382.6" y2="380.6" stroke="#5c5c5c" stroke-width="1.1"/>
<text x="382.6" y="393.3" font-size="14.5" text-anchor="middle" fill="#111111" font-weight="normal" >8</text>
<line x1="410.0" y1="377.1" x2="410.0" y2="380.6" stroke="#5c5c5c" stroke-width="1.1"/>
<text x="410.0" y="393.3" font-size="14.5" text-anchor="middle" fill="#111111" font-weight="normal" >10</text>
<line x1="437.4" y1="377.1" x2="437.4" y2="380.6" stroke="#5c5c5c" stroke-width="1.1"/>
<text x="437.4" y="393.3" font-size="14.5" text-anchor="middle" fill="#111111" font-weight="normal" >12</text>
<line x1="283.6" y1="374.3" x2="428.3" y2="211.5" stroke="#000" stroke-width="2.3"/>
<text x="301.6" y="413.4" font-size="16.6" text-anchor="start" fill="#111111" font-weight="normal" >Discret. Error (Å)</text>
<text x="0" y="0" font-size="16" text-anchor="middle" fill="#111111" transform="translate(251,296) rotate(-90)">mRMSD (Å)</text>
<text x="288.2" y="232.5" font-size="14.05" text-anchor="start" fill="#111111" font-weight="normal" >y=1.10x-0.62</text>
<text x="299.8" y="248.9" font-size="14" text-anchor="start" fill="#111111" font-weight="normal" >R<tspan font-size="9.5" dy="-5">2</tspan><tspan dy="5">=0.938</tspan></text>
<text x="408.5" y="372" font-size="13.6" text-anchor="start" fill="#111111" font-weight="normal" >FAM</text>
<circle cx="463.2" cy="222.2" r="8.5" fill="#7272f2"/>
<circle cx="463.2" cy="244" r="8.5" fill="#a3a3a3"/>
<text x="476.0" y="227.2" font-size="14.2" text-anchor="start" fill="#111111" font-weight="normal" >Position of Atoms in Crystal Structure</text>
<text x="476.0" y="248.5" font-size="14.2" text-anchor="start" fill="#111111" font-weight="normal" >Position of Space Points</text>
<polyline points="513.8,279.5 485.7,319.8 509.2,363.6" fill="none" stroke="#7272f2" stroke-width="3"/>
<circle cx="513.8" cy="279.5" r="11.8" fill="#7272f2"/>
<circle cx="485.7" cy="319.8" r="11.8" fill="#7272f2"/>
<circle cx="509.2" cy="363.6" r="11.8" fill="#7272f2"/>
<circle cx="640.2" cy="279.0" r="11.8" fill="#a3a3a3"/>
<circle cx="588.2" cy="320.0" r="11.8" fill="#a3a3a3"/>
<circle cx="659.9" cy="363.5" r="11.8" fill="#a3a3a3"/>
<line x1="514.2" y1="279.5" x2="640.7" y2="279.0" stroke="#000" stroke-width="3.3" stroke-dasharray="6.9 3.85"/>
<line x1="483.0" y1="319.8" x2="588.7" y2="320.0" stroke="#000" stroke-width="3.3" stroke-dasharray="6.9 3.85"/>
<line x1="512.0" y1="363.6" x2="660.4" y2="363.5" stroke="#000" stroke-width="3.3" stroke-dasharray="6.9 3.85"/>
<text x="558.3" y="275.7" font-size="14" text-anchor="start" fill="#111111" font-weight="normal" >Match 1</text>
<text x="515.2" y="315.6" font-size="14" text-anchor="start" fill="#111111" font-weight="normal" >Match 2</text>
<text x="566.4" y="358.7" font-size="14" text-anchor="start" fill="#111111" font-weight="normal" >Match 3</text>
<text x="570.3" y="293.7" font-size="14" text-anchor="start" fill="#111111" font-weight="normal" >d<tspan font-size="8.5" dy="3.3">1</tspan></text>
<text x="529.2" y="334.2" font-size="14" text-anchor="start" fill="#111111" font-weight="normal" >d<tspan font-size="8.5" dy="3.3">2</tspan></text>
<text x="578.1" y="376.2" font-size="14" text-anchor="start" fill="#111111" font-weight="normal" >d<tspan font-size="8.5" dy="3.3">3</tspan></text>
<text x="509.0" y="406.6" font-size="15.3" text-anchor="start" fill="#111111" font-weight="normal" textLength="93.6" lengthAdjust="spacingAndGlyphs" stroke="#111" stroke-width="0.22">Discret. Error =</text>
<line x1="611" y1="402.4" x2="651.7" y2="402.4" stroke="#111" stroke-width="1.2"/>
<polyline points="621.1,388.4 621.1,386.7 612.3,386.7 617.2,392.0 612.0,397.0 621.3,397.0 621.3,395.2" fill="none" stroke="#111" stroke-width="1.35" stroke-linejoin="miter"/>
<text x="622.3" y="390.4" font-size="10.8" text-anchor="start" fill="#111111" font-weight="normal" stroke="#111" stroke-width="0.2">n</text>
<text x="622.4" y="399.8" font-size="9.6" text-anchor="start" fill="#111111" font-weight="normal" stroke="#111" stroke-width="0.2">i</text>
<path d="M625.9 395.2H632.2M625.9 397.3H632.2" stroke="#111" stroke-width="0.9"/>
<text x="632.5" y="399.8" font-size="9.6" text-anchor="start" fill="#111111" font-weight="normal" stroke="#111" stroke-width="0.2">1</text>
<text x="640.5" y="396.0" font-size="11.6" text-anchor="start" fill="#111111" font-weight="normal" stroke="#111" stroke-width="0.25">d</text>
<text x="647.6" y="399.0" font-size="9.2" text-anchor="start" fill="#111111" font-weight="normal" stroke="#111" stroke-width="0.2">i</text>
<text x="631.5" y="415.8" font-size="14.4" text-anchor="middle" fill="#111111" font-weight="normal" stroke="#111" stroke-width="0.25">n</text>
</svg>
</body></html>
